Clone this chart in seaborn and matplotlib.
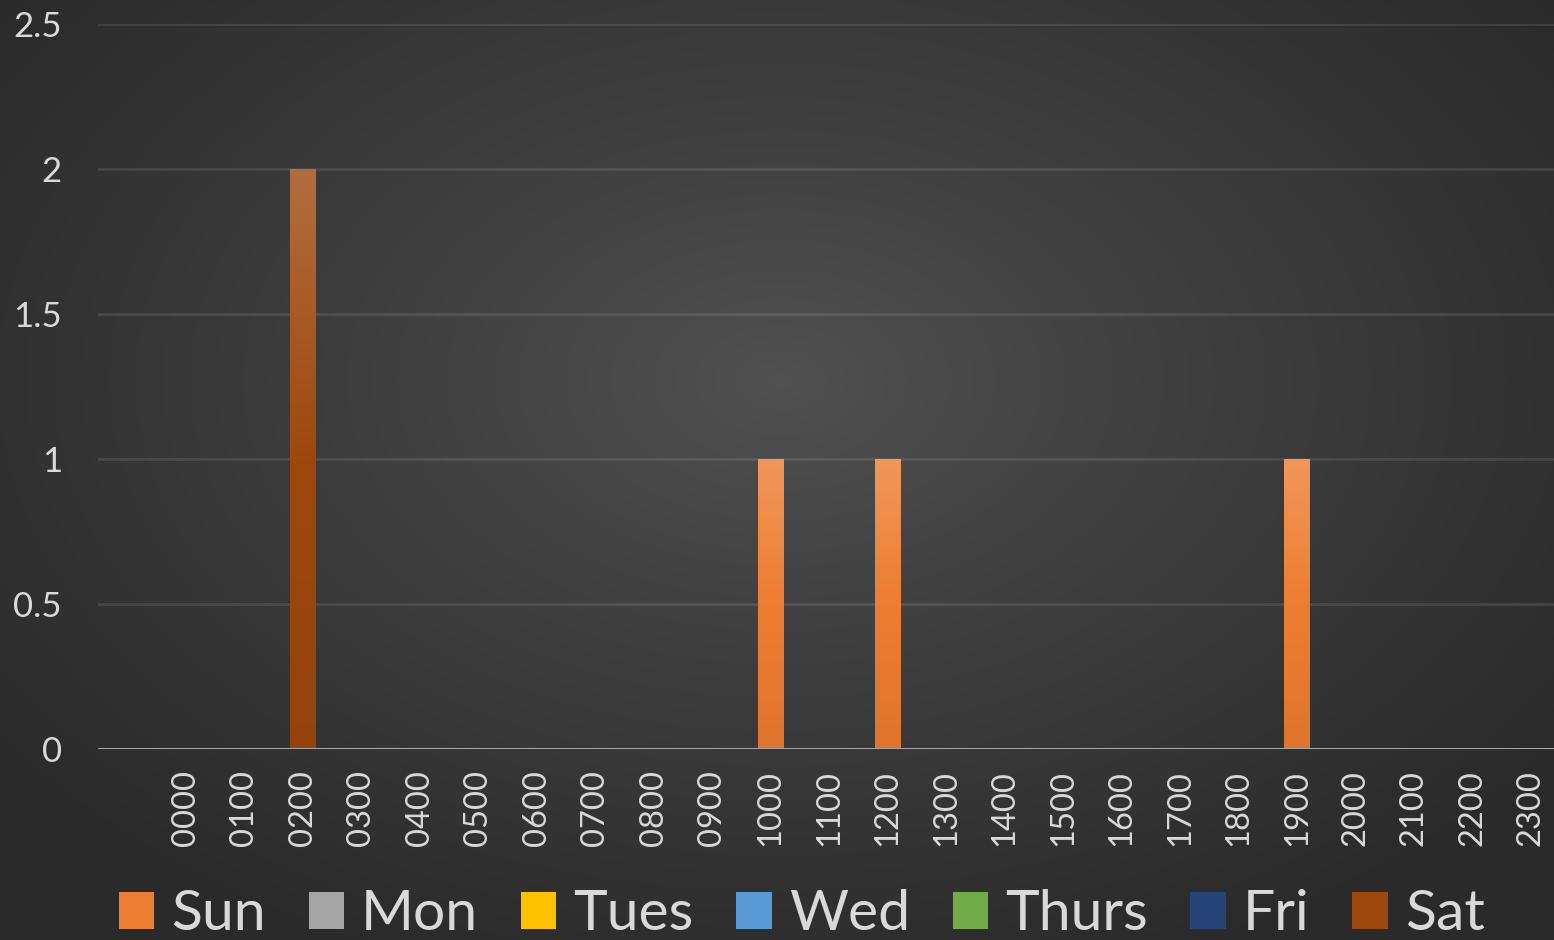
"""Stacked hourly counts per weekday, dark Office-style theme."""

import numpy as np
import pandas as pd
import matplotlib.pyplot as plt
import matplotlib.patches as mpatches
from matplotlib.colors import LinearSegmentedColormap, to_rgb
import seaborn as sns

# first category is blank in the source sheet
HOURS = ["", "0000", "0100", "0200", "0300", "0400", "0500", "0600", "0700",
         "0800", "0900", "1000", "1100", "1200", "1300", "1400", "1500",
         "1600", "1700", "1800", "1900", "2000", "2100", "2200", "2300"]
DAYS = ["Sun", "Mon", "Tues", "Wed", "Thurs", "Fri", "Sat"]
DAY_COLORS = ["#ED7D31", "#A5A5A5", "#FFC000", "#5B9BD5", "#70AD47", "#264478", "#9E480E"]

SUN = [0, 0, 0, 0, 0, 0, 0, 0, 0, 0, 0, 1, 0, 1, 0, 0, 0, 0, 0, 0, 1, 0, 0, 0, 0]
MON = [0, 0, 0, 0, 0, 0, 0, 0, 0, 0, 0, 0, 0, 0, 0, 0, 0, 0, 0, 0, 0, 0, 0, 0, 0]
TUES = [0, 0, 0, 0, 0, 0, 0, 0, 0, 0, 0, 0, 0, 0, 0, 0, 0, 0, 0, 0, 0, 0, 0, 0, 0]
WED = [0, 0, 0, 0, 0, 0, 0, 0, 0, 0, 0, 0, 0, 0, 0, 0, 0, 0, 0, 0, 0, 0, 0, 0, 0]
THURS = [0, 0, 0, 0, 0, 0, 0, 0, 0, 0, 0, 0, 0, 0, 0, 0, 0, 0, 0, 0, 0, 0, 0, 0, 0]
FRI = [0, 0, 0, 0, 0, 0, 0, 0, 0, 0, 0, 0, 0, 0, 0, 0, 0, 0, 0, 0, 0, 0, 0, 0, 0]
SAT = [0, 0, 0, 2, 0, 0, 0, 0, 0, 0, 0, 0, 0, 0, 0, 0, 0, 0, 0, 0, 0, 0, 0, 0, 0]

Y_TICKS = [0, 0.5, 1, 1.5, 2, 2.5]
Y_LABELS = ["0", "0.5", "1", "1.5", "2", "2.5"]

TEXT = "#d9d9d9"

sns.set_theme(style="dark")
plt.rcParams["font.family"] = ["Lato", "DejaVu Sans"]

values = pd.DataFrame(
    {"Sun": SUN, "Mon": MON, "Tues": TUES, "Wed": WED,
     "Thurs": THURS, "Fri": FRI, "Sat": SAT},
    index=HOURS,
)
tops = values[DAYS].cumsum(axis=1)
long = (tops.reset_index(names="hour")
        .melt(id_vars="hour", var_name="day", value_name="top"))

fig = plt.figure(figsize=(15.54, 9.4), dpi=100, facecolor="#2c2c2c")

# radial background gradient
bg = fig.add_axes([0, 0, 1, 1], zorder=-10)
yy, xx = np.mgrid[0:940, 0:1554]
d = np.sqrt(((xx - 780) / 980.0) ** 2 + ((yy - 380) / 640.0) ** 2)
d = np.clip(d, 0, 1) ** 0.85
c_in, c_out = np.array(to_rgb("#525252")), np.array(to_rgb("#2a2a2a"))
img = c_in[None, None, :] * (1 - d[..., None]) + c_out[None, None, :] * d[..., None]
bg.imshow(img, aspect="auto", extent=[0, 1, 0, 1])
bg.set_axis_off()

ax = fig.add_axes([98 / 1554, 191 / 940, 1462 / 1554, 725 / 940])
ax.set_facecolor("none")

# draw cumulative tops back to front so they read as a stack
sns.barplot(data=long, x="hour", y="top", hue="day", order=HOURS,
            hue_order=DAYS[::-1], palette=dict(zip(DAYS, DAY_COLORS)),
            dodge=False, width=0.43, saturation=1, errorbar=None,
            legend=False, ax=ax)

# replace flat fills with a soft vertical gradient per visible segment
color_day = {tuple(np.round(to_rgb(c), 3)): d for d, c in zip(DAYS, DAY_COLORS)}
grad = np.linspace(0, 1, 128).reshape(-1, 1)
segments = []
for p in list(ax.patches):
    day = color_day.get(tuple(np.round(p.get_facecolor()[:3], 3)))
    idx = int(round(p.get_x() + p.get_width() / 2))
    p.set_facecolor("none")
    p.set_edgecolor("none")
    if day is None:
        continue
    v = values[day].iloc[idx]
    if v <= 0:
        continue
    top = tops[day].iloc[idx]
    segments.append((p, day, top - v, top))

for p, day, y0, y1 in segments:
    base = np.array(to_rgb(DAY_COLORS[DAYS.index(day)]))
    light = base + (1 - base) * 0.2
    dark = base * 0.94
    cmap = LinearSegmentedColormap.from_list(day, [dark, base, light])
    x0, w = p.get_x(), p.get_width()
    im = ax.imshow(grad, extent=[x0, x0 + w, y0, y1], origin="lower",
                   aspect="auto", cmap=cmap, zorder=2, interpolation="bilinear")
    im.set_clip_path(p)

ax.set_xlim(-0.5, len(HOURS) - 0.5)
ax.set_ylim(0, 2.5)
ax.set_yticks(Y_TICKS, Y_LABELS)
ax.set_xticks(range(len(HOURS)), HOURS)
ax.set_xlabel("")
ax.set_ylabel("")
for s in ax.spines.values():
    s.set_visible(False)
ax.grid(axis="y", color="#ffffff", alpha=0.1, lw=2)
ax.grid(axis="x", visible=False)
ax.axhline(0, color="#a6a6a6", lw=2.2, zorder=3)
ax.tick_params(axis="y", length=0, pad=26, labelsize=25, labelcolor=TEXT)
ax.tick_params(axis="x", length=0, pad=15, labelsize=23.5, labelcolor=TEXT,
               labelrotation=90)

handles = [mpatches.Patch(facecolor=c, edgecolor="none", label=d)
           for d, c in zip(DAYS, DAY_COLORS)]
fig.legend(handles=handles, loc="center", bbox_to_anchor=(0.516, 0.027),
           ncol=7, frameon=False, fontsize=41, labelcolor=TEXT,
           handlelength=0.62, handleheight=0.62, handletextpad=0.3,
           columnspacing=0.75)

fig.savefig("out.png", dpi=100, facecolor=fig.get_facecolor())
plt.close(fig)
